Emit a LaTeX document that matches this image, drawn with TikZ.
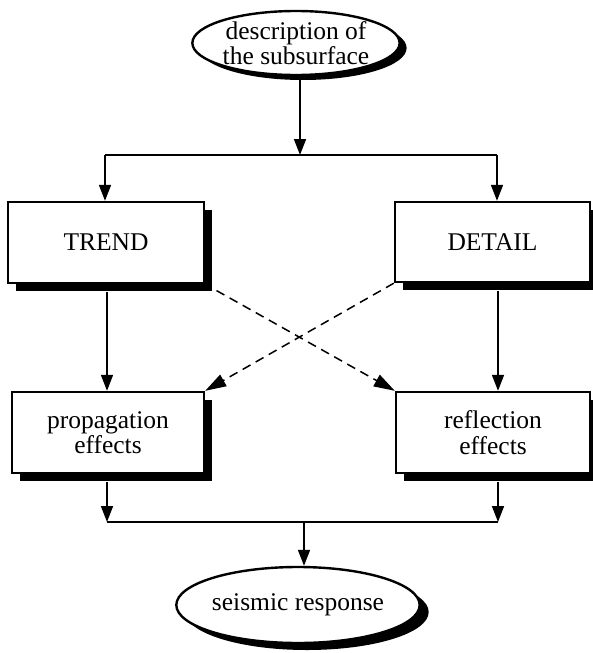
\documentclass[tikz,border=0pt]{standalone}
\usepackage{fontspec}
\setmainfont{Liberation Serif}
\usetikzlibrary{arrows.meta,shadows,shapes.geometric}

\tikzset{
  lbl/.style={font=\fontsize{25.5}{25.5}\selectfont, align=center, inner sep=0pt},
  stepbox/.style={lbl, draw, line width=2.4pt, fill=white, rectangle,
    drop shadow={shadow xshift=8pt, shadow yshift=-8pt, fill=black, opacity=1}},
  oval/.style={lbl, draw, line width=2.4pt, fill=white, ellipse},
  arr/.style={line width=1.7pt, -{Triangle[length=16pt,width=12pt]}},
  darr/.style={line width=1.5pt, dash pattern=on 9pt off 6pt,
    -{Triangle[length=21pt,width=13pt]}},
  link/.style={line width=1.7pt}
}

\begin{document}
\begin{tikzpicture}[x=1pt,y=-1pt]
\useasboundingbox (0,0) rectangle (592,653);

% start and end of the chain
\node[oval, minimum width=192pt, minimum height=64pt,
  drop shadow={shadow xshift=7pt, shadow yshift=-5pt, fill=black, opacity=1}]
  (desc) at (296,43) {description of\\the subsurface};
\node[oval, minimum width=190pt, minimum height=76pt,
  drop shadow={shadow xshift=9pt, shadow yshift=-7pt, fill=black, opacity=1}]
  (resp) at (298,605) {seismic response};

% the four boxes
\node[stepbox, minimum width=196pt, minimum height=81pt] (trend) at (106,242.5) {TREND};
\node[stepbox, minimum width=195pt, minimum height=80pt] (detail) at (492.5,242) {DETAIL};
\node[stepbox, minimum width=192pt, minimum height=81pt] (prop) at (108,432.5) {propagation\\effects};
\node[stepbox, minimum width=194pt, minimum height=81pt] (refl) at (493,432.5) {reflection\\effects};

% branch points
\coordinate (split) at (300,155);
\coordinate (tl) at (105,155);
\coordinate (tr) at (497,155);
\coordinate (bl) at (107,522);
\coordinate (br) at (498,522);
\coordinate (join) at (304,522);

% split into trend and detail
\draw[arr] (split |- desc.south) -- (split);
\draw[link] (tl) -- (tr);
\draw[arr] (tl) -- (tl |- trend.north);
\draw[arr] (tr) -- (tr |- detail.north);

% straight paths
\draw[arr] ([yshift=-8pt]trend.south -| bl) -- (prop.north -| bl);
\draw[arr] ([yshift=-8pt]detail.south -| br) -- (refl.north -| br);

% crossing paths
\draw[darr, shorten <=13pt] (trend.south east) -- (refl.north west);
\draw[darr] (detail.south west) -- (prop.north east);

% join into the response
\draw[arr] ([yshift=-8pt]prop.south -| bl) -- (bl);
\draw[arr] ([yshift=-8pt]refl.south -| br) -- (br);
\draw[link] (bl) -- (br);
\draw[arr] (join) -- (join |- resp.north);
\end{tikzpicture}
\end{document}
